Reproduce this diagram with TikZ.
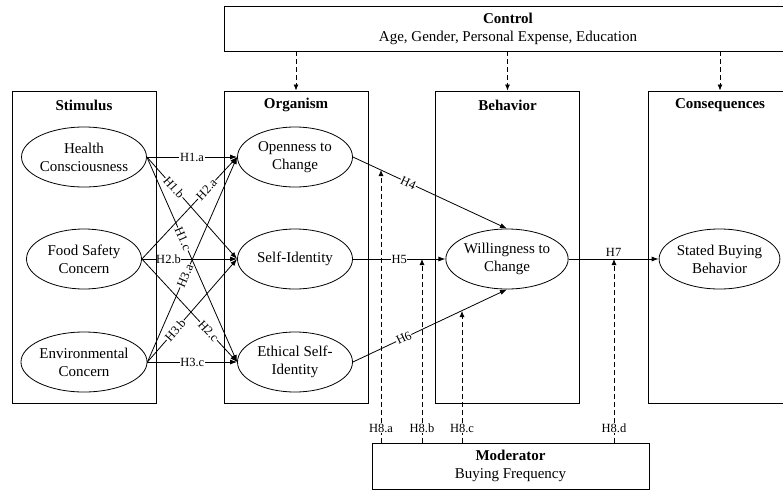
\documentclass[tikz,border=0pt]{standalone}
\usepackage{fontspec}
\setmainfont{Liberation Serif}
\usetikzlibrary{arrows.meta,shapes.geometric}
\begin{document}
\begin{tikzpicture}[x=1pt,y=-1pt,
  every node/.style={font=\fontsize{15}{18}\selectfont},
  stage/.style={draw, rectangle, minimum width=144pt, minimum height=312pt, inner sep=0pt, line width=0.9pt},
  construct/.style={draw, ellipse, minimum width=115pt, minimum height=60pt, inner sep=0pt, align=center, line width=0.8pt},
  header/.style={font=\fontsize{15}{18}\selectfont\bfseries},
  infobox/.style={draw, rectangle, inner sep=0pt, align=center, line width=0.9pt},
  link/.style={line width=0.8pt, -{Latex[length=7pt,width=5pt]}},
  hyp/.style={fill=white, inner sep=0.6pt, font=\fontsize{12.5}{14}\selectfont},
  dashlink/.style={line width=0.8pt, dash pattern=on 5pt off 3pt},
  dasharrow/.style={dashlink, -{Latex[length=6pt,width=5pt]}},
]
\useasboundingbox (0,0) rectangle (783,490);
\clip (0,0) rectangle (783,490);

% constructs
\node[construct] (hc) at (84,157) {Health\\Consciousness};
\node[construct] (fs) at (84,259) {Food Safety\\Concern};
\node[construct] (ec) at (84,362) {Environmental\\Concern};
\node[construct] (oc) at (295,157) {Openness to\\Change};
\node[construct] (si) at (295,259) {Self-Identity};
\node[construct] (es) at (295,362) {Ethical Self-\\Identity};
\node[construct] (wc) at (507,259) {Willingness to\\Change};
\node[construct] (sb) at (719.5,259) {Stated Buying\\Behavior};

% stimulus -> organism
\draw[link] (hc.east) -- node[hyp] {H1.a} (oc.west);
\draw[link] (hc.east) -- node[hyp, sloped, pos=0.3] {H1.b} (si.west);
\draw[link] (hc.east) -- node[hyp, sloped, pos=0.4] {H1.c} (es.west);
\draw[link] (fs.east) -- node[hyp, sloped, pos=0.68] {H2.a} (oc.west);
\draw[link] (fs.east) -- node[hyp, pos=0.28] {H2.b} (si.west);
\draw[link] (fs.east) -- node[hyp, sloped, pos=0.7] {H2.c} (es.west);
\draw[link] (ec.east) -- node[hyp, sloped, pos=0.42] {H3.a} (oc.west);
\draw[link] (ec.east) -- node[hyp, sloped, pos=0.31] {H3.b} (si.west);
\draw[link] (ec.east) -- node[hyp] {H3.c} (es.west);

% organism -> behavior -> consequences
\draw[link] (oc.east) -- node[hyp, sloped, pos=0.36] {H4} (wc.north);
\draw[link] (si.east) -- node[hyp] {H5} (wc.west);
\draw[link] (es.east) -- node[hyp, sloped, pos=0.33] {H6} (wc.south);
\draw[link] (wc.east) -- node[above, inner sep=2pt, font=\fontsize{12.5}{14}\selectfont] {H7} (sb.west);

% stage boxes
\node[stage] (stim) at (84,247) {};
\node[stage] (org) at (296,247) {};
\node[stage] (beh) at (507.5,247) {};
\node[stage] (cons) at (720,247) {};
\node[header] at (84,105) {Stimulus};
\node[header] at (296,105) {Organism};
\node[header] at (507.5,105) {Behavior};
\node[header] at (720,105) {Consequences};

% control variables
\node[infobox, minimum width=568pt, minimum height=45pt] (ctrl) at (508,28.5)
  {\textbf{Control}\\Age, Gender, Personal Expense, Education};
\draw[dasharrow] (ctrl.south -| org.north) -- (org.north);
\draw[dasharrow] (ctrl.south -| beh.north) -- (beh.north);
\draw[dasharrow] (ctrl.south -| cons.north) -- (cons.north);

% moderator
\node[infobox, minimum width=277pt, minimum height=46pt] (mod) at (510.5,466)
  {\textbf{Moderator}\\Buying Frequency};
\coordinate (t8a) at (381,170);
\coordinate (t8b) at (422,259);
\coordinate (t8c) at (462,311);
\coordinate (t8d) at (614,259);
\node[hyp] (l8a) at (381,428) {H8.a};
\node[hyp] (l8b) at (422,428) {H8.b};
\node[hyp] (l8c) at (462,428) {H8.c};
\node[hyp] (l8d) at (614,428) {H8.d};
\foreach \h in {a,b,c,d} {
  \draw[dashlink] (mod.north -| l8\h) -- (l8\h.south);
  \draw[dasharrow] (l8\h.north) -- (t8\h);
}
\end{tikzpicture}
\end{document}
